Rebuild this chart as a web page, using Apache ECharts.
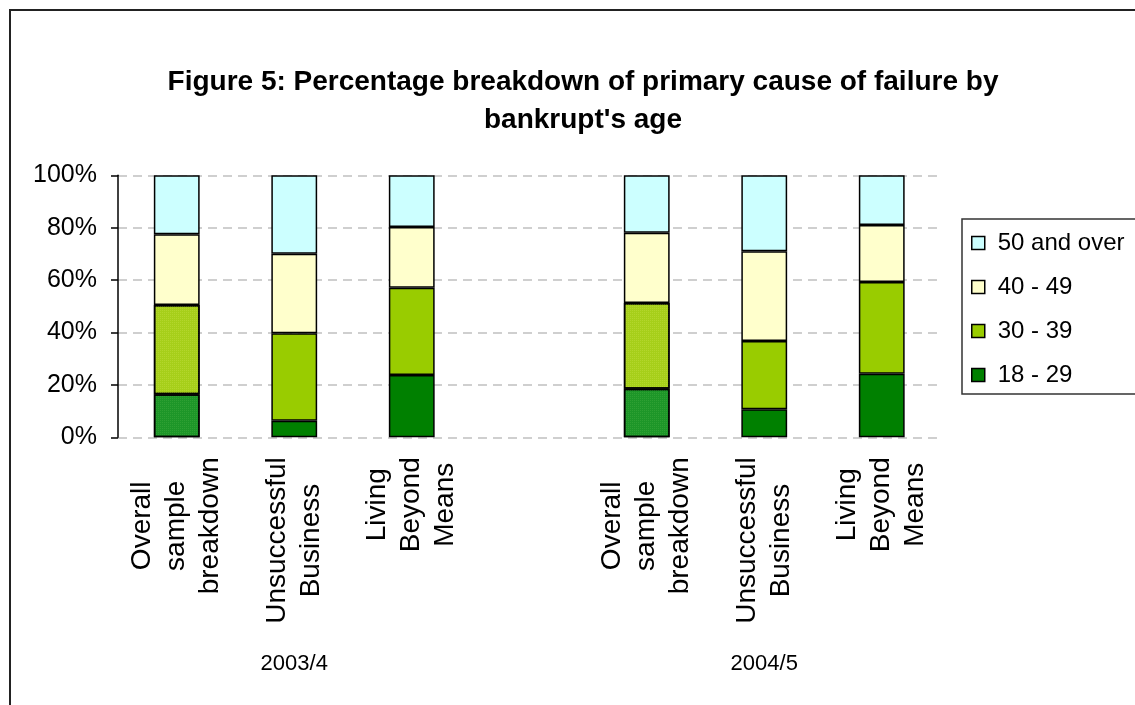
<!DOCTYPE html>
<html>
<head>
<meta charset="utf-8">
<style>
  html, body { margin: 0; padding: 0; background: #fff; }
  #chart { width: 1135px; height: 705px; }
</style>
<script src="https://cdn.jsdelivr.net/npm/echarts@6/dist/echarts.min.js"></script>
</head>
<body>
<div id="chart"></div>
<script>
// Category slots: three causes per year, with an empty slot between the years
const categories = [
  'Overall\nsample\nbreakdown', 'Unsuccessful\nBusiness', 'Living\nBeyond\nMeans',
  '',
  'Overall\nsample\nbreakdown', 'Unsuccessful\nBusiness', 'Living\nBeyond\nMeans'
];
const yearLabels = ['', '2003/4', '', '', '', '2004/5', ''];

// Percentage share of each age band (null = empty spacer slot)
const age18to29 = [16.4, 6.3, 23.8, null, 18.5, 10.7, 24.3];
const age30to39 = [34.1, 33.4, 33.3, null, 32.8, 26.1, 35.0];
const age40to49 = [27.0, 30.4, 23.2, null, 26.8, 34.2, 21.7];
const age50plus = [22.5, 29.9, 19.7, null, 21.9, 29.0, 19.0];

const yTicks = [0, 20, 40, 60, 80, 100];

const FONT = "'Liberation Sans', Arial, sans-serif";

// The "Overall" columns are drawn with a fine dotted fill
const overallIdx = [0, 4];
function withTexture(values, dotted, dotColor) {
  return values.map((v, i) => {
    if (v === null) return '-';
    if (overallIdx.indexOf(i) >= 0) {
      return {
        value: v,
        itemStyle: {
          color: dotted,
          decal: {
            symbol: 'rect', symbolSize: 1,
            dashArrayX: [1, 1], dashArrayY: [1, 1],
            color: dotColor, rotation: 0
          }
        }
      };
    }
    return v;
  });
}

const seriesDefs = [
  { name: '18 - 29', data: withTexture(age18to29, '#1d9628', 'rgba(60,170,60,0.55)'), color: '#008000' },
  { name: '30 - 39', data: withTexture(age30to39, '#a6cf1a', 'rgba(190,220,60,0.55)'), color: '#99CC00' },
  { name: '40 - 49', data: age40to49.map(v => v === null ? '-' : v), color: '#FFFFCC' },
  { name: '50 and over', data: age50plus.map(v => v === null ? '-' : v), color: '#CCFFFF' }
];

const chart = echarts.init(document.getElementById('chart'), null, { renderer: 'canvas' });

chart.setOption({
  animation: false,
  backgroundColor: '#fff',
  aria: { enabled: false, decal: { show: false } },
  title: {
    text: "Figure 5: Percentage breakdown of primary cause of failure by\nbankrupt's age",
    left: 578,
    top: 58,
    textAlign: 'center',
    textStyle: {
      fontFamily: FONT, fontSize: 28, fontWeight: 'bold', color: '#000', lineHeight: 38
    }
  },
  legend: {
    orient: 'vertical',
    left: 962,
    top: 219,
    data: ['50 and over', '40 - 49', '30 - 39', '18 - 29'],
    itemWidth: 13,
    itemHeight: 13,
    itemGap: 20,
    padding: [12, 70, 7, 9],
    borderColor: '#333',
    borderWidth: 1.5,
    icon: 'rect',
    itemStyle: { borderColor: '#000', borderWidth: 1.5, decal: 'none' },
    textStyle: { fontFamily: FONT, fontSize: 24, color: '#000', padding: [0, 0, 0, 8] }
  },
  graphic: [{
    type: 'rect',
    shape: { x: 10, y: 10, width: 1200, height: 800 },
    style: { fill: 'none', stroke: '#222', lineWidth: 2 },
    silent: true,
    z: -1
  }],
  grid: {
    left: 118,
    right: 194.5,
    top: 175.3,
    bottom: 267.7,
    containLabel: false
  },
  xAxis: [{
    type: 'category',
    data: categories,
    axisLine: { show: false },
    axisTick: { show: false },
    axisLabel: {
      interval: 0,
      rotate: 90,
      margin: 20,
      fontFamily: FONT,
      fontSize: 28,
      lineHeight: 34,
      color: '#000',
      formatter: v => v.split('\n').map(l => '{c|' + l + '}').join('\n'),
      rich: { c: { align: 'center', fontFamily: FONT, fontSize: 28, lineHeight: 34, color: '#000' } }
    }
  }, {
    type: 'category',
    data: yearLabels,
    position: 'bottom',
    axisLine: { show: false },
    axisTick: { show: false },
    axisLabel: {
      interval: 0,
      margin: 216,
      fontFamily: FONT,
      fontSize: 22,
      color: '#000'
    }
  }],
  yAxis: {
    type: 'value',
    min: yTicks[0],
    max: yTicks[yTicks.length - 1],
    interval: 20,
    axisLine: { show: true, lineStyle: { color: '#000', width: 1.5 } },
    axisTick: { show: true, length: 7, lineStyle: { color: '#000', width: 1.5 } },
    axisLabel: {
      margin: 21,
      fontFamily: FONT,
      fontSize: 25,
      color: '#000',
      formatter: '{value}%'
    },
    splitLine: {
      show: true,
      lineStyle: { color: '#c0c0c0', width: 1.5, type: [9, 6] }
    }
  },
  series: seriesDefs.map(s => ({
    type: 'bar',
    name: s.name,
    stack: 'total',
    xAxisIndex: 0,
    barWidth: '39%',
    data: s.data,
    itemStyle: { color: s.color, borderColor: '#000', borderWidth: 1.5 },
    emphasis: { disabled: true }
  }))
});
</script>
</body>
</html>
